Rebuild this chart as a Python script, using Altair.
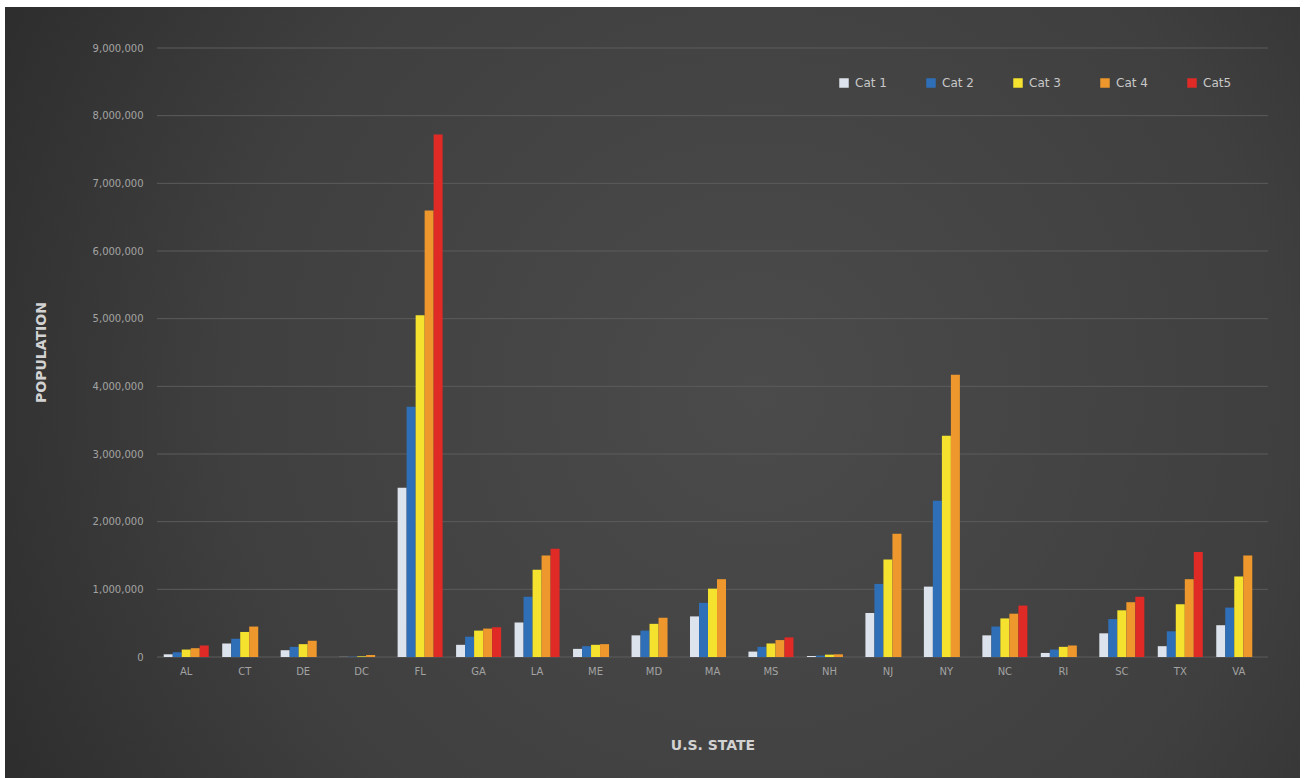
import altair as alt
import pandas as pd

# Population living in hurricane storm-surge zones, by state and storm category
states = ["AL", "CT", "DE", "DC", "FL", "GA", "LA", "ME", "MD", "MA",
          "MS", "NH", "NJ", "NY", "NC", "RI", "SC", "TX", "VA"]
categories = ["Cat 1", "Cat 2", "Cat 3", "Cat 4", "Cat5"]
colors = ["#dde3ec", "#2f6fb8", "#f4e22e", "#ee972c", "#df2a26"]

cat1 = [40000, 200000, 100000, 2000, 2500000, 180000, 510000, 120000, 320000, 600000,
        80000, 15000, 650000, 1040000, 320000, 60000, 350000, 160000, 470000]
cat2 = [70000, 270000, 150000, 5000, 3700000, 300000, 890000, 160000, 390000, 800000,
        150000, 20000, 1080000, 2310000, 450000, 110000, 560000, 380000, 730000]
cat3 = [110000, 370000, 190000, 10000, 5050000, 390000, 1290000, 180000, 490000, 1010000,
        200000, 35000, 1440000, 3270000, 570000, 150000, 690000, 780000, 1190000]
cat4 = [130000, 450000, 240000, 30000, 6600000, 420000, 1500000, 190000, 580000, 1150000,
        250000, 40000, 1820000, 4170000, 640000, 170000, 810000, 1150000, 1500000]
cat5 = [170000, None, None, None, 7720000, 440000, 1600000, None, None, None,
        290000, None, None, None, 760000, None, 890000, 1550000, None]

grid_values = [0, 1000000, 2000000, 3000000, 4000000, 5000000,
               6000000, 7000000, 8000000, 9000000]

rows = []
for series, name in zip([cat1, cat2, cat3, cat4, cat5], categories):
    for st, v in zip(states, series):
        if v is not None:
            rows.append({"state": st, "category": name, "population": v})
df = pd.DataFrame(rows)

W, H = 1111, 609
PAD = {"left": 157, "top": 48, "right": 37, "bottom": 121}
FONT = "DejaVu Sans"

y_scale = alt.Scale(domain=[0, 9000000], nice=False)

# dark panel with a soft radial highlight
panel_fill = {
    "gradient": "radial",
    "x1": 0.58, "y1": 0.5, "r1": 0,
    "x2": 0.58, "y2": 0.5, "r2": 0.75,
    "stops": [
        {"offset": 0, "color": "#4b4b4b"},
        {"offset": 0.55, "color": "#3f3f3f"},
        {"offset": 1, "color": "#262626"},
    ],
}
panel = alt.Chart(alt.Data(values=[{}])).mark_rect(fill=panel_fill, clip=False).encode(
    x=alt.value(5 - PAD["left"]),
    x2=alt.value(1300 - PAD["left"]),
    y=alt.value(7 - PAD["top"]),
    y2=alt.value(778 - PAD["top"]),
)

grid = alt.Chart(pd.DataFrame({"v": grid_values})).mark_rule(
    color="#5c5c5c", strokeWidth=1
).encode(
    y=alt.Y("v:Q", scale=y_scale),
    x=alt.value(0),
    x2=alt.value(W),
)

bars = alt.Chart(df).mark_bar().encode(
    x=alt.X(
        "state:N",
        sort=states,
        scale=alt.Scale(paddingInner=0.23, paddingOuter=0.115),
        axis=alt.Axis(
            title="U.S. STATE",
            labelAngle=0,
            ticks=False,
            domain=False,
            labelPadding=9,
            labelFontSize=10,
            labelColor="#a3a3a3",
            labelFont=FONT,
            titleFont=FONT,
            titleFontSize=14,
            titleFontWeight="bold",
            titleColor="#d2d2d2",
            titleY=88,
            titleBaseline="middle",
            zindex=1,
        ),
    ),
    xOffset=alt.XOffset("category:N", sort=categories,
                        scale=alt.Scale(paddingInner=0, paddingOuter=0)),
    y=alt.Y(
        "population:Q",
        scale=y_scale,
        axis=alt.Axis(
            title="POPULATION",
            values=grid_values,
            format=",d",
            grid=False,
            ticks=False,
            domain=False,
            labelPadding=14,
            labelFontSize=10,
            labelColor="#a3a3a3",
            labelFont=FONT,
            titleFont=FONT,
            titleFontSize=14,
            titleFontWeight="bold",
            titleColor="#d2d2d2",
            titleX=41 - PAD["left"],
            titleY=352 - PAD["top"],
            titleBaseline="middle",
            zindex=1,
        ),
    ),
    color=alt.Color(
        "category:N",
        sort=categories,
        scale=alt.Scale(domain=categories, range=colors),
        legend=alt.Legend(
            title=None,
            orient="none",
            direction="horizontal",
            legendX=842 - PAD["left"] - 4,
            legendY=77 - PAD["top"],
            symbolType="square",
            symbolSize=90,
            symbolStrokeWidth=0,
            labelFontSize=12,
            labelColor="#c8c8c8",
            labelFont=FONT,
            gridAlign="all",
            columnPadding=38,
            symbolOffset=0,
            labelOffset=5,
        ),
    ),
)

chart = alt.layer(panel, grid, bars).properties(
    width=W,
    height=H,
    padding=PAD,
    autosize=alt.AutoSizeParams(type="none"),
    background="white",
).configure_view(stroke=None)

chart.save("out.html", embed_options={"renderer": "svg", "actions": False})
